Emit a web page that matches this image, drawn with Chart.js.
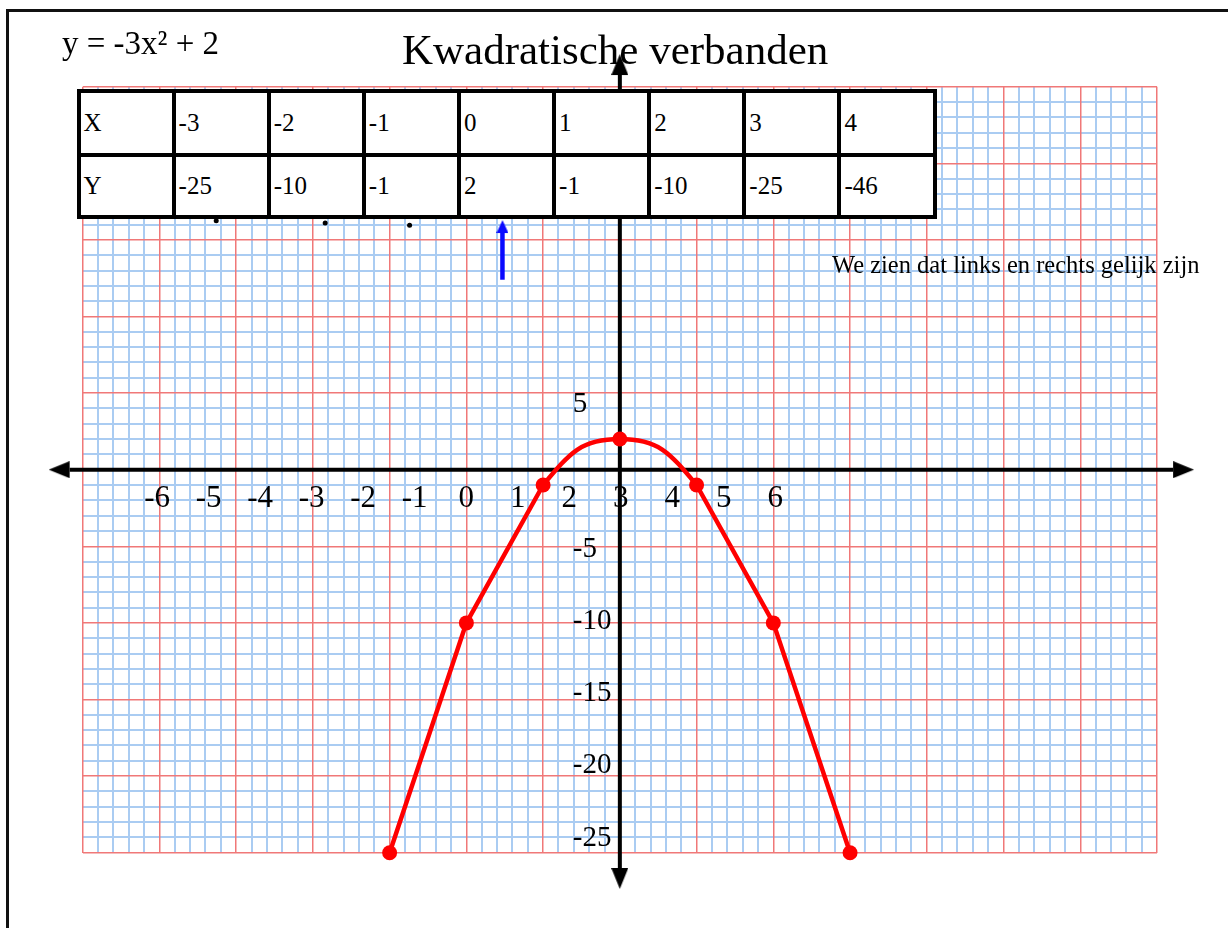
<!DOCTYPE html>
<html>
<head>
<meta charset="utf-8">
<title>Kwadratische verbanden</title>
<script src="https://cdn.jsdelivr.net/npm/chart.js@4.4.1/dist/chart.umd.min.js"></script>
<style>
  html, body { margin: 0; padding: 0; background: #fff; }
  #page { position: relative; width: 1228px; height: 928px; overflow: hidden;
          font-family: "Liberation Serif", "Times New Roman", serif; color: #000; }
  #frame { position: absolute; left: 6px; top: 8.5px; right: -20px; bottom: -20px;
           border-top: 3px solid #111; border-left: 3px solid #111; }
  #paper { position: absolute; left: 0; top: 0; }
  .txt { position: absolute; white-space: nowrap; line-height: 1; }
  #formula { left: 62px; top: 27.4px; font-size: 33px; }
  #title { left: 402px; top: 28px; font-size: 43px; }
  #note { left: 832px; top: 252.5px; font-size: 24.5px; }
  .cell { position: absolute; box-sizing: border-box; border: 4px solid #000; background: #fff;
          display: flex; align-items: center; padding-left: 3px; font-size: 25px; }
</style>
</head>
<body>
<div id="page">
  <div id="frame"></div>
  <canvas id="paper" width="1228" height="928"></canvas>
  <div class="txt" id="formula">y = -3x² + 2</div>
  <div class="txt" id="title">Kwadratische verbanden</div>
  <div id="table"></div>
  <div class="txt" id="note">We zien dat links en rechts gelijk zijn</div>
</div>
<script>
// ---------------- values ----------------
// value table
var tableX = [-3, -2, -1, 0, 1, 2, 3, 4];
var tableY = [-25, -10, -1, 2, -1, -10, -25, -46];

// red plotted points
var plotX = [-3, -2, -1, 0, 1, 2, 3];
var plotY = [-25, -10, -1, 2, -1, -10, -25];

// hand written axis numbers
var xTickLabels = [-6, -5, -4, -3, -2, -1, 0, 1, 2, 3, 4, 5, 6];
var yTickLabels = [5, -5, -10, -15, -20, -25];

// blue arrow under the table (start, base of the head)
var arrowX = [-1.53, -1.53];
var arrowY = [12.4, 15.45];

// loose pencil dots under the table
var dotX = [-5.26, -3.84, -2.74];
var dotY = [16.25, 16.1, 15.95];

// axis ends (base of the arrow heads)
var axisXEnds = [-7.17, 7.21];
var axisYEnds = [25.76, -26.0];

var red = 'rgb(255, 0, 0)';
var blue = 'rgb(10, 10, 255)';
var gridBlue = 'rgb(170, 204, 242)';
var gridRed = 'rgb(240, 120, 120)';

// ---------------- table ----------------
var tableBox = document.getElementById('table');
var colLeft = 78.5, colWidth = 95.12;
var rowLines = [90.7, 155, 216.7];
[['X'].concat(tableX), ['Y'].concat(tableY)].forEach(function (row, r) {
    row.forEach(function (v, j) {
        var c = document.createElement('div');
        c.className = 'cell';
        c.style.left = (colLeft + j * colWidth - 2) + 'px';
        c.style.top = (rowLines[r] - 2) + 'px';
        c.style.width = (colWidth + 4) + 'px';
        c.style.height = (rowLines[r + 1] - rowLines[r] + 4) + 'px';
        c.textContent = String(v);
        tableBox.appendChild(c);
    });
});

// ---------------- arrow heads as point styles ----------------
function arrowHead(color, w, len) {
    var c = document.createElement('canvas');
    c.width = w; c.height = len * 2;
    var g = c.getContext('2d');
    g.fillStyle = color;
    g.beginPath();
    g.moveTo(w / 2, 0);
    g.lineTo(w, len);
    g.lineTo(0, len);
    g.closePath();
    g.fill();
    return c;
}
var blackHead = arrowHead('#000', 17, 21);
var blueHead = arrowHead(blue, 12, 13);

function pts(xs, ys) {
    return xs.map(function (x, i) { return { x: x, y: ys[i] }; });
}
// the top of the parabola is drawn as a curve, the rest straight
function inTop(c) {
    return Math.abs(plotX[c.p0DataIndex]) <= 1 && Math.abs(plotX[c.p1DataIndex]) <= 1;
}
function isMajor(v, step) {
    return Math.abs(v / step - Math.round(v / step)) < 1e-6;
}

// hand written numbers along the axes
var paperLabels = {
    id: 'paperLabels',
    afterDraw: function (chart) {
        var ctx = chart.ctx, s = chart.scales;
        ctx.save();
        ctx.fillStyle = '#000';
        ctx.font = '31px "Liberation Serif"';
        ctx.textAlign = 'center';
        ctx.textBaseline = 'alphabetic';
        var base = s.y.getPixelForValue(0) + 37;
        xTickLabels.forEach(function (v) {
            ctx.fillText(String(v), s.xl.getPixelForValue(v), base);
        });
        ctx.font = '29px "Liberation Serif"';
        ctx.textAlign = 'left';
        ctx.textBaseline = 'middle';
        var left = s.x.getPixelForValue(0) - 47;
        yTickLabels.forEach(function (v) {
            ctx.fillText(String(v), left, s.yl.getPixelForValue(v));
        });
        ctx.restore();
    }
};

new Chart(document.getElementById('paper'), {
    type: 'scatter',
    data: {
        datasets: [{
            label: 'punten',
            data: pts(plotX, plotY),
            showLine: true,
            borderColor: red,
            borderWidth: 4.5,
            tension: 0,
            pointRadius: 7.5,
            pointBackgroundColor: red,
            pointBorderWidth: 0,
            clip: false,
            segment: { borderColor: function (c) { return inTop(c) ? 'transparent' : undefined; } }
        }, {
            label: 'top',
            data: pts(plotX, plotY),
            showLine: true,
            borderColor: red,
            borderWidth: 4.5,
            tension: 0.5,
            pointRadius: 0,
            clip: false,
            segment: { borderColor: function (c) { return inTop(c) ? undefined : 'transparent'; } }
        }, {
            label: 'pijl',
            data: pts(arrowX, arrowY),
            showLine: true,
            borderColor: blue,
            borderWidth: 4.5,
            pointStyle: blueHead,
            pointRadius: [0, 20],
            pointBorderWidth: 0,
            clip: false
        }, {
            label: 'stippen',
            data: pts(dotX, dotY),
            showLine: false,
            pointRadius: 2.5,
            pointBackgroundColor: '#000',
            pointBorderWidth: 0
        }, {
            label: 'x-as',
            data: pts(axisXEnds, [0, 0]),
            showLine: true,
            borderColor: '#000',
            borderWidth: 4,
            pointStyle: blackHead,
            pointRadius: 45,
            pointBorderWidth: 0,
            pointRotation: [-90, 90],
            clip: false
        }, {
            label: 'y-as',
            data: pts([0, 0], axisYEnds),
            showLine: true,
            borderColor: '#000',
            borderWidth: 4,
            pointStyle: blackHead,
            pointRadius: 45,
            pointBorderWidth: 0,
            pointRotation: [0, 180],
            clip: false
        }]
    },
    options: {
        responsive: false,
        animation: false,
        events: [],
        layout: { padding: { left: 82.7, right: 71, top: 86.7, bottom: 75.3 } },
        plugins: {
            legend: { display: false },
            tooltip: { enabled: false },
            title: { display: false }
        },
        scales: {
            x: {
                type: 'linear', axis: 'x', position: 'bottom', min: -7, max: 7,
                ticks: { stepSize: 0.2, display: false, autoSkip: false },
                grid: { color: function (c) { return isMajor(c.tick.value, 1) ? 'rgba(0,0,0,0)' : gridBlue; },
                        lineWidth: 2, drawTicks: false, z: -1 },
                border: { display: false }
            },
            y: {
                type: 'linear', axis: 'y', position: 'left', min: -25, max: 25,
                ticks: { stepSize: 1, display: false, autoSkip: false },
                grid: { color: function (c) { return isMajor(c.tick.value, 5) ? 'rgba(0,0,0,0)' : gridBlue; },
                        lineWidth: 2, drawTicks: false, z: -1 },
                border: { display: false }
            },
            xr: {
                type: 'linear', axis: 'x', position: 'bottom', min: -7, max: 7,
                ticks: { stepSize: 1, display: false, autoSkip: false },
                grid: { color: gridRed, lineWidth: 1.5, drawTicks: false, z: 0 },
                border: { display: false }
            },
            yr: {
                type: 'linear', axis: 'y', position: 'left', min: -25, max: 25,
                ticks: { stepSize: 5, display: false, autoSkip: false },
                grid: { color: gridRed, lineWidth: 1.5, drawTicks: false, z: 0 },
                border: { display: false }
            },
            // scales for placing the hand written numbers
            xl: { type: 'linear', axis: 'x', display: false, min: -7.443, max: 13.41 },
            yl: { type: 'linear', axis: 'y', display: false, min: -26.02, max: 26.99 }
        }
    },
    plugins: [paperLabels]
});
</script>
</body>
</html>
